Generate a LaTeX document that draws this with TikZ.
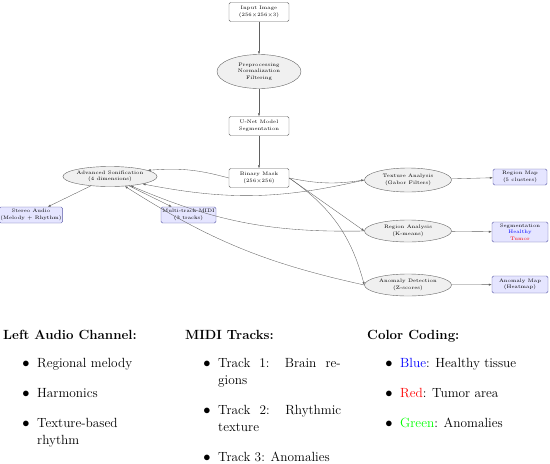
\documentclass[tikz,border=0pt]{standalone}
\usetikzlibrary{arrows.meta,shapes.geometric}
\begin{document}
\begin{tikzpicture}[x=1pt,y=-1pt,
  nf/.style={font=\fontsize{5}{6.6}\selectfont, align=center, inner sep=1pt},
  wbox/.style={nf, draw=gray!80!black, fill=white, rounded corners=1.5pt, minimum width=60pt, minimum height=19pt, line width=0.4pt},
  gell/.style={nf, ellipse, draw=gray!80!black, fill=gray!12, line width=0.4pt, inner sep=0pt},
  bbox/.style={nf, draw=gray!70!blue, fill=blue!10, rounded corners=1.5pt, line width=0.4pt, minimum height=16pt},
  arr/.style={draw=gray!75!black, line width=0.35pt, -{Latex[length=3pt,width=2.2pt]}},
  lt/.style={font=\fontsize{13.3}{16}\selectfont, anchor=base west, inner sep=0pt},
  hd/.style={font=\fontsize{13.3}{16}\selectfont\bfseries, anchor=base west, inner sep=0pt},
  bul/.style={font=\fontsize{13.3}{16}\selectfont, anchor=base, inner sep=0pt}
]
\useasboundingbox (0,0) rectangle (550,464);

% nodes
\node[wbox] (input) at (259,12) {Input Image\\(256$\times$256$\times$3)};
\node[gell, minimum width=84pt, minimum height=34pt] (prep) at (259,71.5) {Preprocessing\\Normalization\\Filtering};
\node[wbox] (unet) at (259,126) {U-Net Model\\Segmentation};
\node[wbox] (mask) at (259,178) {Binary Mask\\(256$\times$256)};
\node[gell, minimum width=86pt, minimum height=20pt] (sonif) at (110,176.5) {Advanced Sonification\\(4 dimensions)};
\node[bbox, minimum width=56pt] (stereo) at (31,215) {Stereo Audio\\(Melody + Rhythm)};
\node[bbox, minimum width=55pt] (midi) at (188.5,215) {Multi-track MIDI\\(3 tracks)};
\node[gell, minimum width=87pt, minimum height=24pt] (texture) at (408,180) {Texture Analysis\\(Gabor Filters)};
\node[gell, minimum width=87pt, minimum height=22pt] (region) at (408,231) {Region Analysis\\(K-means)};
\node[gell, minimum width=87pt, minimum height=22pt] (anomaly) at (408,285) {Anomaly Detection\\(Z-scores)};
\node[bbox, minimum width=54pt] (rmap) at (520,177) {Region Map\\(5 clusters)};
\node[bbox, minimum width=56pt, minimum height=20pt] (seg) at (520,232) {Segmentation\\\textcolor{blue}{Healthy}\\\textcolor{red}{Tumor}};
\node[bbox, minimum width=56pt, minimum height=17pt] (amap) at (520,284.5) {Anomaly Map\\(Heatmap)};

% connectors
\draw[arr] (input) -- (prep);
\draw[arr] (prep) -- (unet);
\draw[arr] (unet) -- (mask);
\draw[arr] (mask.west) to[bend right=10] (sonif);
\draw[arr] (sonif) -- (stereo);
\draw[arr] (sonif) -- (midi);
\draw[arr] (mask.east) to[bend right=10] (texture.west);
\draw[arr] (mask.east) -- (region.west);
\draw[arr] (mask.east) to[bend left=20] (anomaly.west);
\draw[arr] (texture) -- (rmap);
\draw[arr] (region) -- (seg);
\draw[arr] (anomaly) -- (amap);
\draw[arr] (texture.west) to[bend left=12] (sonif);
\draw[arr] (region.west) to[bend left=12] (sonif);
\draw[arr] (anomaly.west) to[bend left=10] (sonif);

% bottom lists
\node[hd] (h1) at (3,339) {Left Audio Channel:};
\node[bul] (b11) at (26,367) {$\bullet$};
\node[lt] (t11) at (37,367) {Regional melody};
\node[bul] (b12) at (26,397) {$\bullet$};
\node[lt] (t12) at (37,397) {Harmonics};
\node[bul] (b13) at (26,427) {$\bullet$};
\node[lt] (t13) at (37,427) {Texture-based};
\node[lt] (t13b) at (37,444) {rhythm};

\node[hd] (h2) at (185,339) {MIDI Tracks:};
\node[bul] (b21) at (207,367) {$\bullet$};
\node[lt] (t21) at (218,367) {\makebox[122.5pt][s]{Track 1: Brain re-}};
\node[lt] (t21b) at (218,384) {gions};
\node[bul] (b22) at (207,414) {$\bullet$};
\node[lt] (t22) at (218,414) {\makebox[123pt][s]{Track 2: Rhythmic}};
\node[lt] (t22b) at (218,431) {texture};
\node[bul] (b23) at (207,461) {$\bullet$};
\node[lt] (t23) at (218,461) {Track 3: Anomalies};

\node[hd] (h3) at (367,339) {Color Coding:};
\node[bul] (b31) at (389,367) {$\bullet$};
\node[lt] (t31) at (400,367) {\textcolor{blue}{Blue}: Healthy tissue};
\node[bul] (b32) at (389,397) {$\bullet$};
\node[lt] (t32) at (400,397) {\textcolor{red}{Red}: Tumor area};
\node[bul] (b33) at (389,427) {$\bullet$};
\node[lt] (t33) at (400,427) {\textcolor{green}{Green}: Anomalies};
\end{tikzpicture}
\end{document}
